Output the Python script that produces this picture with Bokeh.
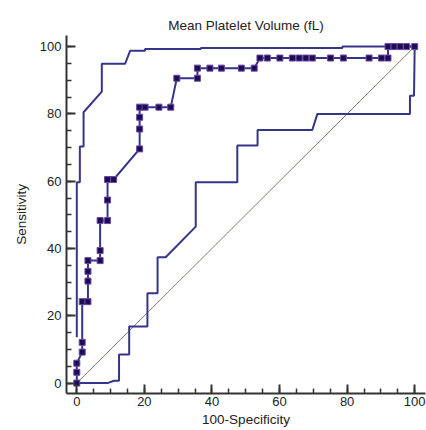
from bokeh.plotting import figure
from bokeh.models import Range1d, FixedTicker
from bokeh.embed import file_html
from bokeh.resources import INLINE

title_text = "Mean Platelet Volume (fL)"
x_label = "100-Specificity"
y_label = "Sensitivity"
major_ticks = [0, 20, 40, 60, 80, 100]
minor_ticks = list(range(0, 101, 5))

# ROC curve (100-Specificity, Sensitivity)
roc_fpr = [0, 0, 0, 1.6, 1.6, 1.6, 3.3, 3.3, 3.3, 3.3, 6.9, 6.9, 6.9, 9.1, 9.1, 9.1,
           10.9, 18.6, 18.6, 18.6, 18.6, 20.2, 24.3, 27.8, 29.6, 35.7, 35.7, 39.4,
           42.8, 48.7, 52.5, 54.2, 56.4, 60.1, 63.8, 65.8, 67.8, 69.7, 75.1, 78.9,
           86.5, 90.2, 92.1, 92.1, 93.9, 95.7, 97.6, 100]
roc_tpr = [0, 3.2, 5.9, 9.2, 12.1, 24.2, 24.2, 30.3, 33.2, 36.4, 36.4, 39.4, 48.3, 48.3,
           54.4, 60.5, 60.5, 69.6, 75.5, 79.0, 82.0, 82.0, 82.0, 82.0, 90.6, 90.6, 93.6,
           93.6, 93.6, 93.6, 93.6, 96.6, 96.6, 96.6, 96.6, 96.6, 96.6, 96.6, 96.6, 96.6,
           96.6, 96.6, 96.6, 100, 100, 100, 100, 100]

# Upper confidence bound
ub_x = [0, 0, 0.9, 0.9, 2.0, 2.0, 7.4, 7.4, 14.3, 15.8, 20.2, 20.2, 36.7, 36.7, 78.6, 78.6, 100]
ub_y = [13.6, 59.7, 59.7, 70.3, 70.3, 80.5, 86.6, 94.9, 94.9, 98.8, 98.8, 99.3, 99.3, 99.6, 99.6, 100, 100]

# Lower confidence bound
lb_x = [0, 9.1, 11.0, 12.5, 12.5, 15.5, 15.5, 20.9, 20.9, 23.9, 23.9, 26.3, 35.2, 35.2,
        47.5, 47.5, 53.5, 53.5, 69.7, 71.2, 98.6, 98.6, 99.8, 100]
lb_y = [0, 0, 0.7, 0.7, 8.5, 8.5, 16.8, 16.8, 26.7, 26.7, 37.4, 37.4, 46.5, 59.7,
        59.7, 70.6, 70.6, 75.2, 75.2, 80.0, 80.0, 85.4, 85.4, 100]

diag_x = [0, 100]
diag_y = [0, 100]

FONT = "Liberation Sans"
LINE_COLOR = "#35358a"

p = figure(width=426, height=430, output_backend="svg", toolbar_location=None,
           x_range=Range1d(-3.05, 103.2), y_range=Range1d(-3.1, 103.3),
           min_border_left=66, min_border_right=1, min_border_top=35, min_border_bottom=37)
p.outline_line_color = None
p.xgrid.visible = False
p.ygrid.visible = False
p.background_fill_color = "white"

p.title.text = title_text
p.title.align = "center"
p.title.text_font = FONT
p.title.text_font_size = "13.5px"
p.title.text_font_style = "normal"
p.title.text_color = "#222222"
p.title.standoff = 5

for ax in (p.xaxis[0], p.yaxis[0]):
    ax.ticker = FixedTicker(ticks=major_ticks, minor_ticks=minor_ticks)
    ax.major_tick_in = 9
    ax.major_tick_out = 0
    ax.minor_tick_in = 5
    ax.minor_tick_out = 0
    ax.axis_line_width = 2
    ax.axis_line_color = "#333333"
    ax.major_tick_line_width = 2
    ax.major_tick_line_color = "#333333"
    ax.minor_tick_line_width = 1.5
    ax.minor_tick_line_color = "#333333"
    ax.major_label_text_font = FONT
    ax.major_label_text_font_size = "13px"
    ax.major_label_text_color = "#222222"
    ax.axis_label_text_font = FONT
    ax.axis_label_text_font_size = "13.5px"
    ax.axis_label_text_font_style = "normal"
    ax.axis_label_text_color = "#222222"

p.xaxis.axis_label = x_label
p.yaxis.axis_label = y_label
p.xaxis.major_label_standoff = 3
p.xaxis.axis_label_standoff = 3
p.yaxis.major_label_standoff = 5
p.yaxis.axis_label_standoff = 8

p.line(diag_x, diag_y, line_color="#8a7a6e", line_width=1)
p.line(ub_x, ub_y, line_color=LINE_COLOR, line_width=2)
p.line(lb_x, lb_y, line_color=LINE_COLOR, line_width=2)
p.line(roc_fpr, roc_tpr, line_color=LINE_COLOR, line_width=2)
p.scatter(roc_fpr, roc_tpr, marker="square", size=6, fill_color="#1e0a55",
          line_color="#6a4aa2", line_width=1)

open("out.html", "w").write(file_html(p, INLINE))
